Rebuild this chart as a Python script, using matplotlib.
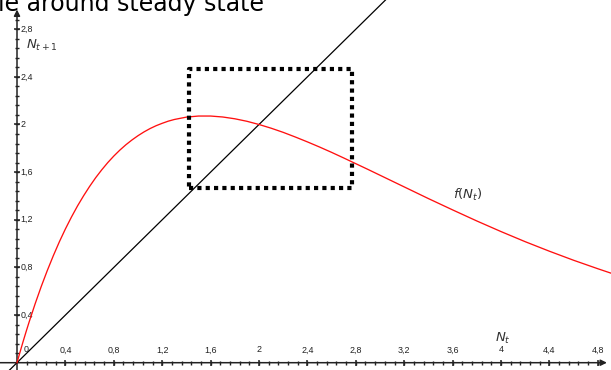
import numpy as np
import matplotlib
matplotlib.use("Agg")
import matplotlib.pyplot as plt

# Ricker map f(N_t) sampled along the curve
n_t = [0.0, 0.025, 0.05, 0.075, 0.1, 0.15, 0.2, 0.25, 0.3, 0.35, 0.4, 0.45, 0.5,
       0.55, 0.6, 0.65, 0.7, 0.75, 0.8, 0.85, 0.9, 0.95, 1.0, 1.05, 1.1, 1.15, 1.2,
       1.25, 1.3, 1.4, 1.5, 1.6, 1.7, 1.8, 1.9, 2.0, 2.1, 2.2, 2.3, 2.4, 2.5, 2.6,
       2.7, 2.8, 2.9, 3.0, 3.2, 3.4, 3.6, 3.8, 4.0, 4.2, 4.4, 4.6, 4.8, 4.92]
f_n = [0.0, 0.089, 0.176, 0.260, 0.341, 0.495, 0.639, 0.773, 0.898, 1.015, 1.123,
       1.223, 1.316, 1.401, 1.480, 1.553, 1.619, 1.680, 1.735, 1.785, 1.830, 1.870,
       1.906, 1.938, 1.966, 1.990, 2.010, 2.028, 2.042, 2.062, 2.071, 2.071, 2.063,
       2.048, 2.027, 2.000, 1.969, 1.934, 1.895, 1.854, 1.811, 1.766, 1.719, 1.671,
       1.623, 1.574, 1.476, 1.378, 1.283, 1.190, 1.101, 1.016, 0.936, 0.860, 0.789,
       0.748]

# identity line N_{t+1} = N_t
diag = [-0.12, 3.06]

# zoom box around the steady state
box_x = [1.42, 2.77]
box_y = [1.47, 2.47]

tick_vals = [0.4, 0.8, 1.2, 1.6, 2, 2.4, 2.8, 3.2, 3.6, 4, 4.4, 4.8]
tick_labels = ["0,4", "0,8", "1,2", "1,6", "2", "2,4", "2,8", "3,2", "3,6", "4", "4,4", "4,8"]
ytick_vals = [0.4, 0.8, 1.2, 1.6, 2, 2.4, 2.8]
ytick_labels = ["0,4", "0,8", "1,2", "1,6", "2", "2,4", "2,8"]

W, H = 611, 370
fig = plt.figure(figsize=(W / 100, H / 100), dpi=100)
ax = fig.add_axes([0, 0, 1, 1])
ax.set_xlim(-0.1405, 4.909)
ax.set_ylim(-0.0613, 3.0453)
ax.axis("off")

axis_col = "#222222"
txt_col = "#333333"

# axes with arrows
ax.annotate("", xy=(4.875, 0), xytext=(-0.1405, 0),
            arrowprops=dict(arrowstyle="-|>", color=axis_col, lw=1.1,
                            mutation_scale=9, shrinkA=0, shrinkB=0))
ax.annotate("", xy=(0, 2.965), xytext=(0, -0.0613),
            arrowprops=dict(arrowstyle="-|>", color=axis_col, lw=1.1,
                            mutation_scale=9, shrinkA=0, shrinkB=0))

# ticks
minor_x = np.arange(0.08, 4.85, 0.08)
minor_y = np.arange(0.08, 2.9, 0.08)
ax.plot(minor_x, np.zeros_like(minor_x), ls="none", marker="|", ms=3.2,
        mew=1.0, color=axis_col)
ax.plot(np.zeros_like(minor_y), minor_y, ls="none", marker="_", ms=3.2,
        mew=1.0, color=axis_col)
ax.plot(tick_vals, np.zeros(len(tick_vals)), ls="none", marker="|", ms=5,
        mew=1.1, color=axis_col)
ax.plot(np.zeros(len(ytick_vals)), ytick_vals, ls="none", marker="_", ms=5,
        mew=1.1, color=axis_col)

for v, lab in zip(tick_vals, tick_labels):
    ax.annotate(lab, (v, 0), xytext=(0, 6), textcoords="offset points",
                ha="center", va="bottom", fontsize=6.4, color=axis_col,
                family="Liberation Sans")
for v, lab in zip(ytick_vals, ytick_labels):
    ax.annotate(lab, (0, v), xytext=(2.5, 0), textcoords="offset points",
                ha="left", va="center", fontsize=6.4, color=axis_col,
                family="Liberation Sans")
ax.annotate("0", (0, 0), xytext=(4.5, 6), textcoords="offset points",
            ha="left", va="bottom", fontsize=6.4, color=axis_col,
            family="Liberation Sans")

# curves
ax.plot(diag, diag, color="black", lw=0.9, zorder=3)
ax.plot(n_t, f_n, color="#ff1010", lw=0.95, zorder=3)

# dotted box
bx = [box_x[0], box_x[1], box_x[1], box_x[0], box_x[0]]
by = [box_y[0], box_y[0], box_y[1], box_y[1], box_y[0]]
ax.plot(bx, by, color="black", lw=3.0, ls=(0, (1, 1)),
        dash_capstyle="butt", zorder=4)

# labels
ax.text(0.078, 2.66, r"$N_{t+1}$", fontsize=9.5, color=txt_col,
        ha="left", va="center")
ax.text(3.95, 0.2, r"$N_t$", fontsize=9.5, color=txt_col,
        ha="left", va="center")
ax.text(3.6, 1.41, r"$f(N_t)$", fontsize=9.5, color=txt_col,
        ha="left", va="center")

fig.text(-0.004, 1 - 10.5 / H, "le around steady state", fontsize=17,
         color="black", ha="left", va="baseline", family="DejaVu Sans")

fig.savefig("out.png", dpi=100)
